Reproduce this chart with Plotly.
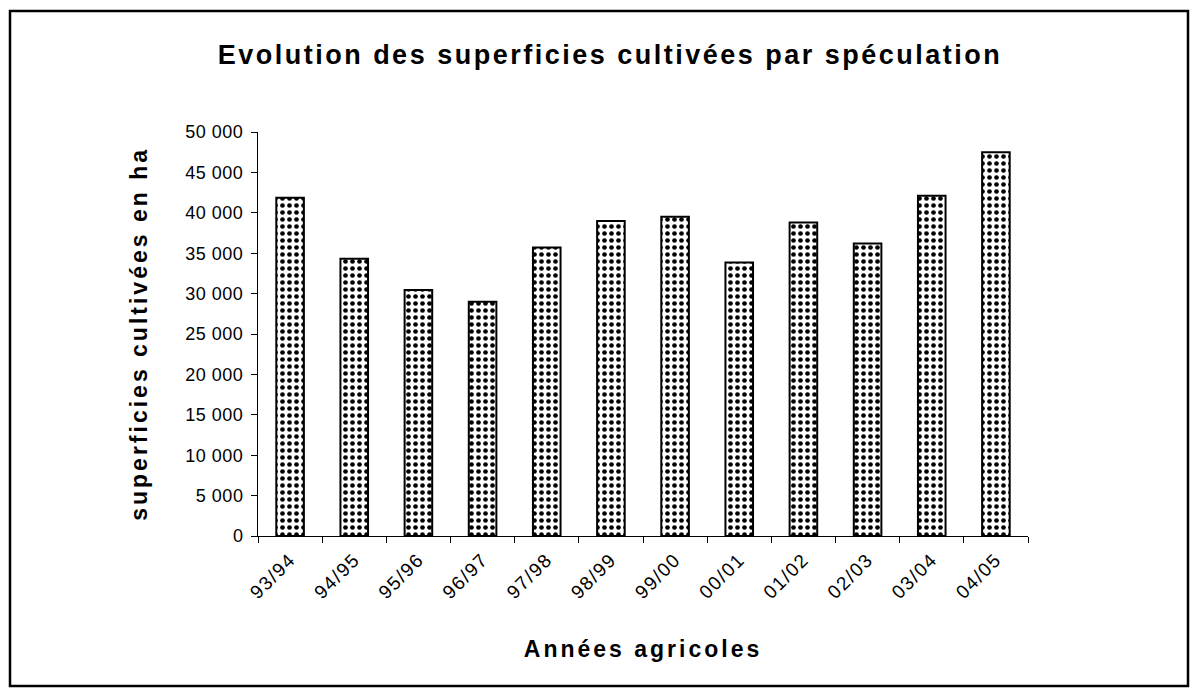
import plotly.graph_objects as go

# Agricultural years and cultivated areas (ha)
annees = ["93/94", "94/95", "95/96", "96/97", "97/98", "98/99",
          "99/00", "00/01", "01/02", "02/03", "03/04", "04/05"]
superficies = [41850, 34300, 30450, 29000, 35700, 39000,
               39500, 33850, 38800, 36200, 42100, 47500]

y_ticks = [0, 5000, 10000, 15000, 20000, 25000, 30000, 35000, 40000, 45000, 50000]

FONT = "Liberation Sans, Arial, sans-serif"

fig = go.Figure(
    go.Bar(
        x=annees,
        y=superficies,
        marker=dict(
            color="white",
            line=dict(color="black", width=2),
            pattern=dict(shape=".", fgcolor="black", bgcolor="white",
                         size=7, solidity=0.35, fgopacity=1),
        ),
        hoverinfo="x+y",
    )
)

# plot area geometry in pixels
L, R, T, B = 258, 1028, 132, 536
W, H = 1200, 695


def px_x(p):
    return (p - L) / (R - L)


def px_y(p):
    return (B - p) / (B - T)


fig.update_layout(
    width=W,
    height=H,
    margin=dict(l=L, r=W - R, t=T, b=H - B, pad=0),
    paper_bgcolor="white",
    plot_bgcolor="white",
    separators=", ",
    bargap=0.57,
    showlegend=False,
    font=dict(family=FONT, color="black", size=16),
    title=dict(
        text="<b>Evolution des superficies cultivées par spéculation</b>",
        x=610 / W, xanchor="center", xref="container",
        y=1 - 55 / H, yanchor="middle",
        font=dict(family=FONT, size=27, color="black"),
    ),
    xaxis=dict(
        type="category",
        showline=True, linecolor="black", linewidth=1,
        ticks="outside", ticklen=6, tickcolor="black",
        tickson="boundaries",
        tickangle=-45,
        ticklabelstandoff=4,
        tickfont=dict(family=FONT, size=19, color="black"),
        showgrid=False,
        title=dict(text="<b>Années agricoles</b>",
                   font=dict(family=FONT, size=23, color="black"),
                   standoff=44),
    ),
    yaxis=dict(
        range=[0, 50000],
        tickvals=y_ticks,
        tickformat=",d",
        showline=True, linecolor="black", linewidth=1,
        ticks="outside", ticklen=6, tickcolor="black",
        ticklabelstandoff=4,
        tickfont=dict(family=FONT, size=18, color="black"),
        showgrid=False,
        zeroline=False,
        title=dict(text="<b>superficies cultivées en ha</b>",
                   font=dict(family=FONT, size=23, color="black"),
                   standoff=34),
    ),
    shapes=[
        dict(type="rect", xref="paper", yref="paper",
             x0=px_x(10), x1=px_x(1188), y0=px_y(686), y1=px_y(11),
             line=dict(color="black", width=2.5), fillcolor="rgba(0,0,0,0)",
             layer="below"),
    ],
)

# looser character spacing for the titles and tick labels,
# keeping each text centred where plotly placed it
spacing_js = """
var gd = document.getElementsByClassName('plotly-graph-div')[0];
function loosen(sel, px, recentre) {
  gd.querySelectorAll(sel).forEach(function (t) {
    var b0 = t.getBBox();
    t.style.letterSpacing = px;
    if (recentre) {
      var b1 = t.getBBox();
      var dx = (b0.x + b0.width / 2) - (b1.x + b1.width / 2);
      var x = parseFloat(t.getAttribute('x')) || 0;
      t.setAttribute('x', x + dx);
    }
  });
}
loosen('.gtitle', '2.5px', true);
loosen('.g-xtitle text', '3px', true);
loosen('.g-ytitle text', '3px', true);
loosen('.xtick text', '1.5px', false);
loosen('.ytick text', '0.5px', false);
"""

fig.write_html("out.html", post_script=spacing_js)
